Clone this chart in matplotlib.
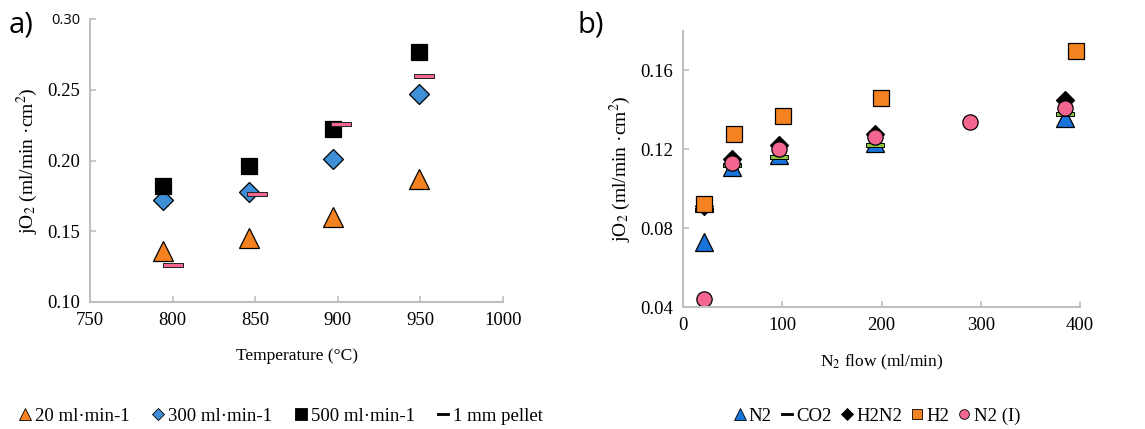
import matplotlib
matplotlib.use("Agg")
import matplotlib.pyplot as plt
from matplotlib.path import Path
from matplotlib.lines import Line2D

plt.rcParams['font.family'] = ['Liberation Serif', 'DejaVu Serif']
plt.rcParams['mathtext.fontset'] = 'stix'

# panel a) - flux vs temperature
temp = [794, 846, 897, 949]
j_20 = [0.136, 0.145, 0.160, 0.187]
j_300 = [0.172, 0.178, 0.201, 0.247]
j_500 = [0.182, 0.196, 0.222, 0.277]
temp_pellet = [800, 851, 902, 952]
j_pellet = [0.126, 0.176, 0.226, 0.260]

# panel b) - flux vs N2 flow
flow = [21, 49, 97, 193, 385]
j_n2 = [0.073, 0.111, 0.117, 0.123, 0.136]
j_co2 = [0.089, 0.112, 0.116, 0.122, 0.138]
j_h2n2 = [0.091, 0.115, 0.122, 0.128, 0.145]
flow_h2 = [21, 51, 101, 199, 396]
j_h2 = [0.092, 0.128, 0.137, 0.146, 0.170]
flow_n2i = [21, 49, 97, 193, 289, 385]
j_n2i = [0.044, 0.113, 0.120, 0.126, 0.134, 0.141]

ORANGE = '#F58220'
BLUE_D = '#3F8FD6'
BLUE_T = '#1874DB'
PINK = '#F2668F'
GREEN = '#8CC63F'
GRID = '#BFBFBF'

# flat bar marker used for "1 mm pellet" and "CO2"
dash = Path([(-1, -0.2), (1, -0.2), (1, 0.2), (-1, 0.2), (-1, -0.2)],
            [Path.MOVETO, Path.LINETO, Path.LINETO, Path.LINETO, Path.CLOSEPOLY])

W, H = 1145, 429
fig = plt.figure(figsize=(W / 100, H / 100), dpi=100)


def box(l, r, t, b):
    return [l / W, 1 - b / H, (r - l) / W, (b - t) / H]


def style(ax):
    for s in ['top', 'right']:
        ax.spines[s].set_visible(False)
    for s in ['left', 'bottom']:
        ax.spines[s].set_color(GRID)
        ax.spines[s].set_linewidth(1.5)
    ax.tick_params(direction='in', length=4, width=1.2, color=GRID,
                   labelsize=13.5, pad=7)


kw = dict(linestyle='none', markeredgecolor='black', markeredgewidth=0.9, clip_on=False)

# ---- a)
ax1 = fig.add_axes(box(90, 503, 19, 302))
ax1.plot(temp, j_20, marker='^', ms=14, color=ORANGE, **kw)
ax1.plot(temp, j_300, marker='D', ms=10, color=BLUE_D, **kw)
ax1.plot(temp, j_500, marker='s', ms=11.5, color='black', **kw)
ax1.plot(temp_pellet, j_pellet, marker=dash, ms=15, color=PINK,
         linestyle='none', markeredgecolor='#222222', markeredgewidth=0.7, clip_on=False)
ax1.set_xlim(750, 1000)
ax1.set_ylim(0.10, 0.30)
ax1.set_xticks([750, 800, 850, 900, 950, 1000])
ax1.set_yticks([0.10, 0.15, 0.20, 0.25, 0.30])
ax1.set_yticklabels(['0.10', '0.15', '0.20', '0.25', '0.30'])
style(ax1)
ax1.get_yticklabels()[-1].set_family('Open Sans')
ax1.get_yticklabels()[-1].set_fontsize(10.5)
ax1.set_xlabel('Temperature (°C)', fontsize=12.5, labelpad=14)
ax1.set_ylabel('jO$_2$ (ml/min ·cm$^2$)', fontsize=14, labelpad=5)
fig.text(9 / W, 1 - 25 / H, 'a)', fontsize=21, family='Open Sans', va='center')

# ---- b)
ax2 = fig.add_axes(box(683, 1080, 31, 307))
ax2.plot(flow, j_n2, marker='^', ms=12.5, color=BLUE_T, **kw)
ax2.plot(flow, j_co2, marker=dash, ms=13, color=GREEN,
         linestyle='none', markeredgecolor='black', markeredgewidth=0.7, clip_on=False)
ax2.plot(flow, j_h2n2, marker='D', ms=9.5, color='black', **kw)
ax2.plot(flow_h2, j_h2, marker='s', ms=11, color=ORANGE, **kw)
ax2.plot(flow_n2i, j_n2i, marker='o', ms=11, color=PINK, **kw)
ax2.set_xlim(0, 400)
ax2.set_ylim(0.04, 0.18)
ax2.set_xticks([0, 100, 200, 300, 400])
ax2.set_yticks([0.04, 0.08, 0.12, 0.16])
ax2.set_yticklabels(['0.04', '0.08', '0.12', '0.16'])
style(ax2)
ax2.set_xlabel('N$_2$ flow (ml/min)', fontsize=12.5, labelpad=14)
ax2.set_ylabel('jO$_2$ (ml/min ·cm$^2$)', fontsize=14, labelpad=5)
fig.text(578 / W, 1 - 25 / H, 'b)', fontsize=21, family='Open Sans', va='center')

# ---- legends
lk = dict(linestyle='none', markeredgecolor='black', markeredgewidth=0.6)
h1 = [Line2D([], [], marker='^', ms=8, color=ORANGE, **lk),
      Line2D([], [], marker='D', ms=6, color=BLUE_D, **lk),
      Line2D([], [], marker='s', ms=8, color='black', **lk),
      Line2D([], [], marker=dash, ms=8, color='black', **lk)]
fig.legend(h1, ['20 ml·min-1', '300 ml·min-1', '500 ml·min-1', '1 mm pellet'],
           loc='center left', bbox_to_anchor=(10 / W, 1 - 416 / H), ncol=4,
           frameon=False, fontsize=13.5, handlelength=0.6, handletextpad=0.25,
           columnspacing=1.2, borderpad=0)

h2 = [Line2D([], [], marker='^', ms=8, color=BLUE_T, **lk),
      Line2D([], [], marker=dash, ms=8, color='black', **lk),
      Line2D([], [], marker='D', ms=6, color='black', **lk),
      Line2D([], [], marker='s', ms=7, color=ORANGE, **lk),
      Line2D([], [], marker='o', ms=7, color=PINK, **lk)]
fig.legend(h2, ['N2', 'CO2', 'H2N2', 'H2', 'N2 (I)'],
           loc='center', bbox_to_anchor=(877 / W, 1 - 416 / H), ncol=5,
           frameon=False, fontsize=13.5, handlelength=0.6, handletextpad=0.2,
           columnspacing=0.5, borderpad=0)

fig.savefig('out.png', dpi=100)
